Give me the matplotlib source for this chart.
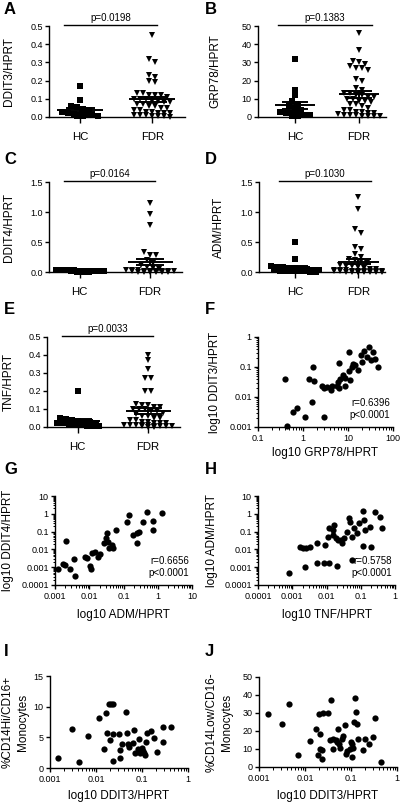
import numpy as np
import matplotlib
matplotlib.use('Agg')
import matplotlib.pyplot as plt
from matplotlib.ticker import FixedLocator, LogLocator, NullFormatter

plt.rcParams['font.family'] = ['Liberation Sans', 'DejaVu Sans']

# ---------------- data ----------------
groups = ['HC', 'FDR']

A_HC = [0.17, 0.095, 0.06, 0.055, 0.045, 0.04, 0.03, 0.02, 0.015, 0.012, 0.01, 0.01, 0.008, 0.005, 0.003]
A_FDR = [0.45, 0.32, 0.30, 0.23, 0.22, 0.20, 0.19, 0.13, 0.13, 0.12, 0.12, 0.12, 0.11, 0.10, 0.10, 0.10,
         0.09, 0.09, 0.08, 0.08, 0.07, 0.07, 0.06, 0.06, 0.05, 0.05, 0.04, 0.04, 0.03, 0.03, 0.02, 0.02,
         0.02, 0.01, 0.01, 0.01, 0.005, 0.005, 0.003, 0.002]

B_HC = [32, 15, 12, 9, 7, 6, 5, 4, 3, 2, 2, 1.5, 1, 1, 0.5, 0.5]
B_FDR = [46, 37, 30.5, 30, 29, 28, 27, 27, 26, 21, 20, 16, 15, 13, 13, 12, 12, 11, 11, 10, 10, 9, 9, 8,
         7, 7, 6, 5, 4, 4, 3, 3, 2, 2, 1.5, 1, 1, 1, 0.5, 0.5, 0.5, 0.5]

C_HC = [0.04, 0.035, 0.03, 0.03, 0.025, 0.02, 0.02, 0.015, 0.01, 0.01, 0.008, 0.005, 0.003]
C_FDR = [1.15, 0.97, 0.78, 0.34, 0.29, 0.28, 0.20, 0.15, 0.12, 0.08, 0.06, 0.05, 0.04, 0.03, 0.03,
         0.02, 0.02, 0.02, 0.01, 0.01, 0.01, 0.01, 0.005, 0.005, 0.003, 0.003, 0.002, 0.002]

D_HC = [0.5, 0.22, 0.1, 0.09, 0.08, 0.07, 0.06, 0.05, 0.05, 0.04, 0.03, 0.03, 0.02, 0.02, 0.01,
        0.01, 0.01, 0.005, 0.005]
D_FDR = [1.25, 1.05, 0.72, 0.65, 0.42, 0.38, 0.30, 0.25, 0.22, 0.2, 0.18, 0.15, 0.12, 0.1, 0.1, 0.08,
         0.06, 0.05, 0.05, 0.04, 0.03, 0.03, 0.02, 0.02, 0.01, 0.01, 0.01, 0.01, 0.01, 0.01, 0.008,
         0.008, 0.005, 0.005, 0.005, 0.003, 0.003, 0.002]

E_HC = [0.2, 0.05, 0.045, 0.04, 0.035, 0.03, 0.03, 0.025, 0.02, 0.02, 0.015, 0.01, 0.01, 0.005, 0.005, 0.003]
E_FDR = [0.4, 0.37, 0.32, 0.27, 0.27, 0.2, 0.2, 0.13, 0.12, 0.12, 0.11, 0.11, 0.1, 0.1, 0.1, 0.09, 0.09,
         0.08, 0.07, 0.06, 0.06, 0.05, 0.05, 0.04, 0.04, 0.03, 0.03, 0.02, 0.02, 0.02, 0.01, 0.01, 0.01,
         0.01, 0.01, 0.005, 0.005, 0.005, 0.003, 0.003, 0.002, 0.002]

F_GRP78 = [0.39, 1.37, 1.77, 1.68, 1.57, 0.59, 0.72, 1.12, 2.92, 0.44, 2.69, 2.92, 3.46, 4.31, 4.1, 5.7,
           6.0, 6.8, 6.2, 7.6, 8.7, 8.7, 10.3, 11.2, 6.2, 10.3, 12.2, 13.2, 14.4, 16.5, 19.5, 20, 23,
           25.8, 29.5, 33, 36, 39.5, 46.6]
F_DDIT3 = [0.039, 0.039, 0.035, 0.098, 0.007, 0.0032, 0.0044, 0.0022, 0.0022, 0.0011, 0.023, 0.0195,
           0.021, 0.023, 0.017, 0.023, 0.032, 0.039, 0.0195, 0.054, 0.042, 0.023, 0.076, 0.037, 0.14,
           0.32, 0.098, 0.13, 0.117, 0.079, 0.25, 0.15, 0.35, 0.22, 0.48, 0.17, 0.32, 0.19, 0.098]

G_ADM = [0.00125, 0.0017, 0.0020, 0.0027, 0.0038, 0.011, 0.0105, 0.0021, 0.0036, 0.0075, 0.0088, 0.0118,
         0.0149, 0.0185, 0.0207, 0.027, 0.031, 0.034, 0.036, 0.045, 0.039, 0.05, 0.061, 0.124, 0.145,
         0.193, 0.24, 0.25, 0.29, 0.38, 0.47, 0.73, 0.73, 1.36]
G_DDIT4 = [0.00076, 0.0015, 0.0013, 0.00076, 0.00032, 0.00076, 0.0011, 0.031, 0.0028, 0.0039, 0.0032,
           0.006, 0.0074, 0.0039, 0.0055, 0.024, 0.042, 0.08, 0.027, 0.018, 0.012, 0.012, 0.12, 0.36,
           0.85, 0.064, 0.024, 0.087, 0.099, 0.36, 1.3, 0.12, 0.41, 1.15]

H_TNF = [0.00165, 0.0021, 0.0026, 0.0032, 0.0053, 0.0091, 0.0108, 0.012, 0.015, 0.0168, 0.016, 0.0187,
         0.021, 0.026, 0.029, 0.033, 0.041, 0.046, 0.049, 0.056, 0.063, 0.079, 0.088, 0.117, 0.123,
         0.137, 0.19, 0.265, 0.37, 0.41, 0.117, 0.2, 0.00079, 0.0024, 0.0053, 0.0087, 0.012, 0.02, 0.056]
H_ADM = [0.014, 0.0115, 0.0115, 0.013, 0.024, 0.018, 0.052, 0.15, 0.12, 0.23, 0.065, 0.042, 0.034, 0.034,
         0.022, 0.042, 0.1, 0.56, 0.36, 0.052, 0.15, 0.08, 0.29, 1.5, 0.45, 0.12, 0.19, 1.3, 0.69, 0.15,
         0.0155, 0.014, 0.00049, 0.00107, 0.0018, 0.0018, 0.0018, 0.0012, 0.0025]

I_DDIT3 = [0.0015, 0.0030, 0.0043, 0.0068, 0.0118, 0.0149, 0.0165, 0.0176, 0.019, 0.021, 0.023, 0.0202,
           0.023, 0.0237, 0.032, 0.034, 0.034, 0.036, 0.045, 0.048, 0.05, 0.051, 0.063, 0.067, 0.07,
           0.083, 0.087, 0.09, 0.098, 0.103, 0.11, 0.116, 0.122, 0.126, 0.16, 0.18, 0.21, 0.28, 0.29, 0.42]
I_CD16pos = [1.6, 6.3, 1.0, 5.2, 8.1, 3.1, 9.0, 5.7, 10.5, 10.5, 10.5, 4.6, 1.2, 5.6, 5.6, 3.0, 1.6, 3.9,
             9.1, 5.7, 3.9, 3.5, 4.0, 6.2, 2.5, 3.1, 4.7, 2.5, 3.2, 2.8, 2.4, 2.1, 4.3, 5.7, 6.0, 4.9,
             2.6, 6.7, 4.3, 6.7]

J_DDIT3 = [0.0016, 0.0031, 0.0046, 0.0072, 0.013, 0.0174, 0.0195, 0.0197, 0.021, 0.021, 0.024, 0.024,
           0.025, 0.032, 0.035, 0.0375, 0.04, 0.04, 0.047, 0.05, 0.053, 0.055, 0.058, 0.065, 0.067,
           0.074, 0.078, 0.08, 0.093, 0.1, 0.105, 0.105, 0.113, 0.117, 0.122, 0.13, 0.135, 0.14, 0.18,
           0.2, 0.25, 0.3, 0.33, 0.46]
J_CD16neg = [29.7, 23.9, 35.1, 6.6, 14.4, 21.1, 6.4, 29.3, 10.2, 18.4, 9.3, 4.7, 30.2, 30.0, 15.1, 37.5,
             10.2, 15.6, 14.8, 13.8, 21.1, 12.9, 10.8, 15.6, 17.0, 23.5, 7.5, 9.1, 10.2, 13.8, 12.6, 5.6,
             10.8, 24.8, 38.4, 30.3, 24.0, 15.6, 9.5, 15.6, 12.9, 16.5, 27.0, 2.6]

# ---------------- layout helpers ----------------
W, H = 403, 802
fig = plt.figure(figsize=(W / 100, H / 100), dpi=100)

TICK_FS = 6.5
LAB_FS = 8.5
LW = 1.0


def add_ax(l, t, r, b):
    return fig.add_axes([l / W, 1 - b / H, (r - l) / W, (b - t) / H])


def style_axes(ax):
    for s in ('top', 'right'):
        ax.spines[s].set_visible(False)
    for s in ('left', 'bottom'):
        ax.spines[s].set_linewidth(LW)
    ax.tick_params(axis='both', which='major', width=LW, length=3, labelsize=TICK_FS, pad=1.5)
    ax.tick_params(axis='both', which='minor', width=0.7, length=1.8)
    ax.patch.set_alpha(0)


def swarm_offsets(vals, row_h, sp, maxn=9):
    vals = np.asarray(vals, float)
    order = np.argsort(-vals, kind='stable')
    offs = np.zeros(len(vals))
    rows, cur = [], []
    for idx in order:
        if cur and (vals[cur[0]] - vals[idx] > row_h or len(cur) >= maxn):
            rows.append(cur)
            cur = []
        cur.append(idx)
    if cur:
        rows.append(cur)
    for r in rows:
        n = len(r)
        for k, idx in enumerate(r):
            offs[idx] = (k - (n - 1) / 2) * sp
    return offs


def column_panel(box, hc, fdr, ymax, yticks, ytl, ylabel, ptext, xlim, pline, ylab_x):
    l, t, r, b = box
    ax = add_ax(l, t, r, b)
    style_axes(ax)
    ax.set_xlim(*xlim)
    ax.set_ylim(0, ymax)
    ax.spines['left'].set_bounds(0, ymax)
    row_h = ymax / (b - t) * 4.5
    sp = (xlim[1] - xlim[0]) / (r - l) * 6.0
    for i, (vals, mk, ms) in enumerate([(hc, 's', 3.8), (fdr, 'v', 4.4)]):
        offs = swarm_offsets(vals, row_h, sp)
        ax.plot(i + offs, vals, mk, color='k', ms=ms, mew=0, clip_on=False, zorder=3)
        m = np.mean(vals)
        se = np.std(vals, ddof=1) / np.sqrt(len(vals))
        ax.plot([i - 0.32, i + 0.32], [m, m], color='k', lw=1.4, zorder=4, solid_capstyle='butt')
        ax.plot([i - 0.2, i + 0.2], [m + se, m + se], color='k', lw=1.4, zorder=4, solid_capstyle='butt')
        ax.plot([i - 0.2, i + 0.2], [m - se, m - se], color='k', lw=1.4, zorder=4, solid_capstyle='butt')
        ax.plot([i, i], [m - se, m + se], color='k', lw=1.4, zorder=4)
    ax.set_xticks([0, 1])
    ax.set_xticklabels(groups, fontsize=8.2)
    ax.tick_params(axis='x', length=4, pad=7)
    ax.yaxis.set_major_locator(FixedLocator(yticks))
    ax.set_yticklabels(ytl)
    yl = ymax * 1.01
    ax.plot(pline, [yl, yl], color='k', lw=1.0, clip_on=False)
    ax.text(np.mean(pline), yl + ymax * 0.02, ptext, ha='center', va='bottom', fontsize=7)
    fig.text(ylab_x / W, 1 - (t + b) / 2 / H, ylabel, rotation=90, ha='center', va='center', fontsize=LAB_FS)
    return ax


def log_axis(axis, ticks, labels):
    axis.set_major_locator(FixedLocator(ticks))
    axis.set_major_formatter(matplotlib.ticker.FixedFormatter(labels))
    axis.set_minor_locator(LogLocator(base=10, subs=np.arange(2, 10), numticks=20))
    axis.set_minor_formatter(NullFormatter())


def scatter_panel(box, x, y, xlim, ylim, xt, xtl, yt, ytl, xlabel, ylabel, ylog, stat, ylab_x,
                  xlab_y, two_line=False):
    l, t, r, b = box
    ax = add_ax(l, t, r, b)
    style_axes(ax)
    ax.set_xscale('log')
    if ylog:
        ax.set_yscale('log')
    ax.set_xlim(*xlim)
    ax.set_ylim(*ylim)
    ax.plot(x, y, 'o', color='k', ms=4.5, mew=0, clip_on=False, zorder=3)
    log_axis(ax.xaxis, xt, xtl)
    if ylog:
        log_axis(ax.yaxis, yt, ytl)
    else:
        ax.yaxis.set_major_locator(FixedLocator(yt))
        ax.set_yticklabels(ytl)
    ax.tick_params(axis='x', pad=2)
    fig.text((l + r) / 2 / W, 1 - xlab_y / H, xlabel, ha='center', va='center', fontsize=LAB_FS)
    if two_line:
        for k, line in enumerate(ylabel):
            fig.text((ylab_x + 15 * k) / W, 1 - (t + b) / 2 / H, line, rotation=90, ha='center',
                     va='center', fontsize=LAB_FS)
    else:
        fig.text(ylab_x / W, 1 - (t + b) / 2 / H, ylabel, rotation=90, ha='center', va='center',
                 fontsize=LAB_FS)
    if stat:
        ax.text(0.98, 0.08, stat, transform=ax.transAxes, ha='right', va='bottom', fontsize=7,
                linespacing=1.2)
    return ax


# ---------------- panels ----------------
column_panel((49, 26, 185, 117), A_HC, A_FDR, 0.5, [0, 0.1, 0.2, 0.3, 0.4, 0.5],
             ['0.0', '0.1', '0.2', '0.3', '0.4', '0.5'], 'DDIT3/HPRT', 'p=0.0198',
             (-0.434, 1.453), [-0.22, 1.07], 9)
column_panel((258, 26, 386, 117), B_HC, B_FDR, 50, [0, 10, 20, 30, 40, 50],
             ['0', '10', '20', '30', '40', '50'], 'GRP78/HPRT', 'p=0.1383',
             (-0.578, 1.422), [-0.26, 1.2], 215)
column_panel((49, 182, 182, 272), C_HC, C_FDR, 1.5, [0, 0.5, 1.0, 1.5],
             ['0.0', '0.5', '1.0', '1.5'], 'DDIT4/HPRT', 'p=0.0164',
             (-0.434, 1.453), [-0.22, 1.07], 9)
column_panel((259, 182, 385, 272), D_HC, D_FDR, 1.5, [0, 0.5, 1.0, 1.5],
             ['0.0', '0.5', '1.0', '1.5'], 'ADM/HPRT', 'p=0.1030',
             (-0.578, 1.422), [-0.26, 1.2], 219)
column_panel((47, 337, 180, 427), E_HC, E_FDR, 0.5, [0, 0.1, 0.2, 0.3, 0.4, 0.5],
             ['0.0', '0.1', '0.2', '0.3', '0.4', '0.5'], 'TNF/HPRT', 'p=0.0033',
             (-0.434, 1.453), [-0.22, 1.07], 9)

scatter_panel((258, 337, 393, 427), F_GRP78, F_DDIT3, (0.1, 100), (0.001, 1),
              [0.1, 1, 10, 100], ['0.1', '1', '10', '100'], [0.001, 0.01, 0.1, 1],
              ['0.001', '0.01', '0.1', '1'], 'log10 GRP78/HPRT', 'log10 DDIT3/HPRT', True,
              'r=0.6396\np<0.0001', 215, 453)
scatter_panel((55, 496, 192, 585), G_ADM, G_DDIT4, (0.001, 10), (0.0001, 10),
              [0.001, 0.01, 0.1, 1, 10], ['0.001', '0.01', '0.1', '1', '10'],
              [0.0001, 0.001, 0.01, 0.1, 1, 10], ['0.0001', '0.001', '0.01', '0.1', '1', '10'],
              'log10 ADM/HPRT', 'log10 DDIT4/HPRT', True, 'r=0.6656\np<0.0001', 8, 615)
scatter_panel((258, 496, 395, 585), H_TNF, H_ADM, (0.0001, 1), (0.0001, 10),
              [0.0001, 0.001, 0.01, 0.1, 1], ['0.0001', '0.001', '0.01', '0.1', '1'],
              [0.0001, 0.001, 0.01, 0.1, 1, 10], ['0.0001', '0.001', '0.01', '0.1', '1', '10'],
              'log10 TNF/HPRT', 'log10 ADM/HPRT', True, 'r=0.5758\np<0.0001', 212, 615)
scatter_panel((50, 676, 188, 768), I_DDIT3, I_CD16pos, (0.001, 1), (0, 15),
              [0.001, 0.01, 0.1, 1], ['0.001', '0.01', '0.1', '1'], [0, 5, 10, 15],
              ['0', '5', '10', '15'], 'log10 DDIT3/HPRT', ['%CD14Hi/CD16+', 'Monocytes'], False,
              None, 8, 796, two_line=True)
scatter_panel((259, 677, 397, 767), J_DDIT3, J_CD16neg, (0.001, 1), (0, 50),
              [0.001, 0.01, 0.1, 1], ['0.001', '0.01', '0.1', '1'], [0, 10, 20, 30, 40, 50],
              ['0', '10', '20', '30', '40', '50'], 'log10 DDIT3/HPRT', ['%CD14Low/CD16-', 'Monocytes'],
              False, None, 212, 796, two_line=True)

for lab, x, y in [('A', 4, 10), ('B', 205, 10), ('C', 4, 159), ('D', 205, 159), ('E', 4, 310),
                  ('F', 205, 310), ('G', 4, 470), ('H', 205, 470), ('I', 4, 651), ('J', 205, 651)]:
    fig.text(x / W, 1 - y / H, lab, fontsize=12, fontweight='bold', ha='left', va='center')

fig.savefig('out.png', dpi=100)
